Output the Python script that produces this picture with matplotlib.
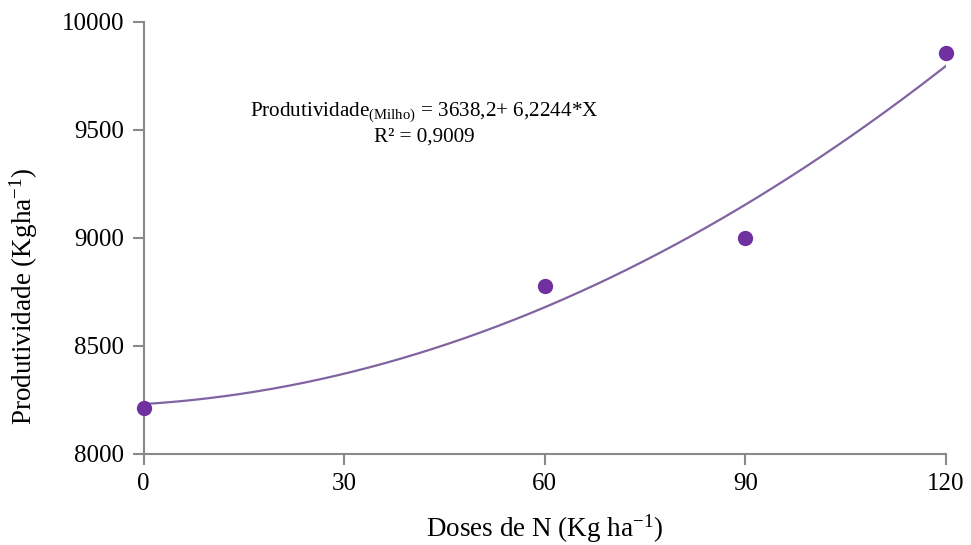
import numpy as np
import matplotlib
matplotlib.use('Agg')
import matplotlib.pyplot as plt

plt.rcParams['font.family'] = 'Liberation Serif'
plt.rcParams['mathtext.fontset'] = 'custom'
plt.rcParams['mathtext.rm'] = 'Liberation Serif'
plt.rcParams['mathtext.it'] = 'Liberation Serif:italic'

#	observed yields
doses = [0, 60, 90, 120]
produtividade = [8212, 8777, 8999, 9854]

#	trend line
trend_x = [0, 60, 120]
trend_y = [8231, 8679, 9795]

xticks = [0, 30, 60, 90, 120]
yticks = [8000, 8500, 9000, 9500, 10000]

coef = np.polyfit(trend_x, trend_y, 2)
xs = np.linspace(0, 120, 200)

fig = plt.figure(figsize=(9.71, 5.45), dpi=100)
ax = fig.add_axes([0.148, 0.167, 0.826, 0.793])

ax.plot(xs, np.polyval(coef, xs), color='#8064A2', lw=1.6, zorder=2)
ax.plot(doses, produtividade, 'o', color='#7030A0', ms=10, zorder=3, clip_on=False)

ax.set_xlim(0, 120)
ax.set_ylim(8000, 10000)
ax.set_xticks(xticks)
ax.set_yticks(yticks)

for s in ['top', 'right']:
	ax.spines[s].set_visible(False)
for s in ['left', 'bottom']:
	ax.spines[s].set_color('#898989')
	ax.spines[s].set_linewidth(1.5)
ax.tick_params(axis='both', direction='out', length=8, width=1.5, color='#898989',
	labelsize=18, pad=6)

ax.set_xlabel('Doses de N (Kg ha$^{-1}$)', fontsize=19.5, labelpad=12)
ax.set_ylabel('Produtividade (Kgha$^{-1}$)', fontsize=19.5)
ax.yaxis.set_label_coords(-0.129, 0.365)

ax.text(0.35, 0.765, 'Produtividade$_{\\mathrm{(Milho)}}$ = 3638,2+ 6,2244*X\nR² = 0,9009',
	transform=ax.transAxes, ha='center', va='center', fontsize=15.2, linespacing=1.25)

plt.savefig('out.png', dpi=100)
